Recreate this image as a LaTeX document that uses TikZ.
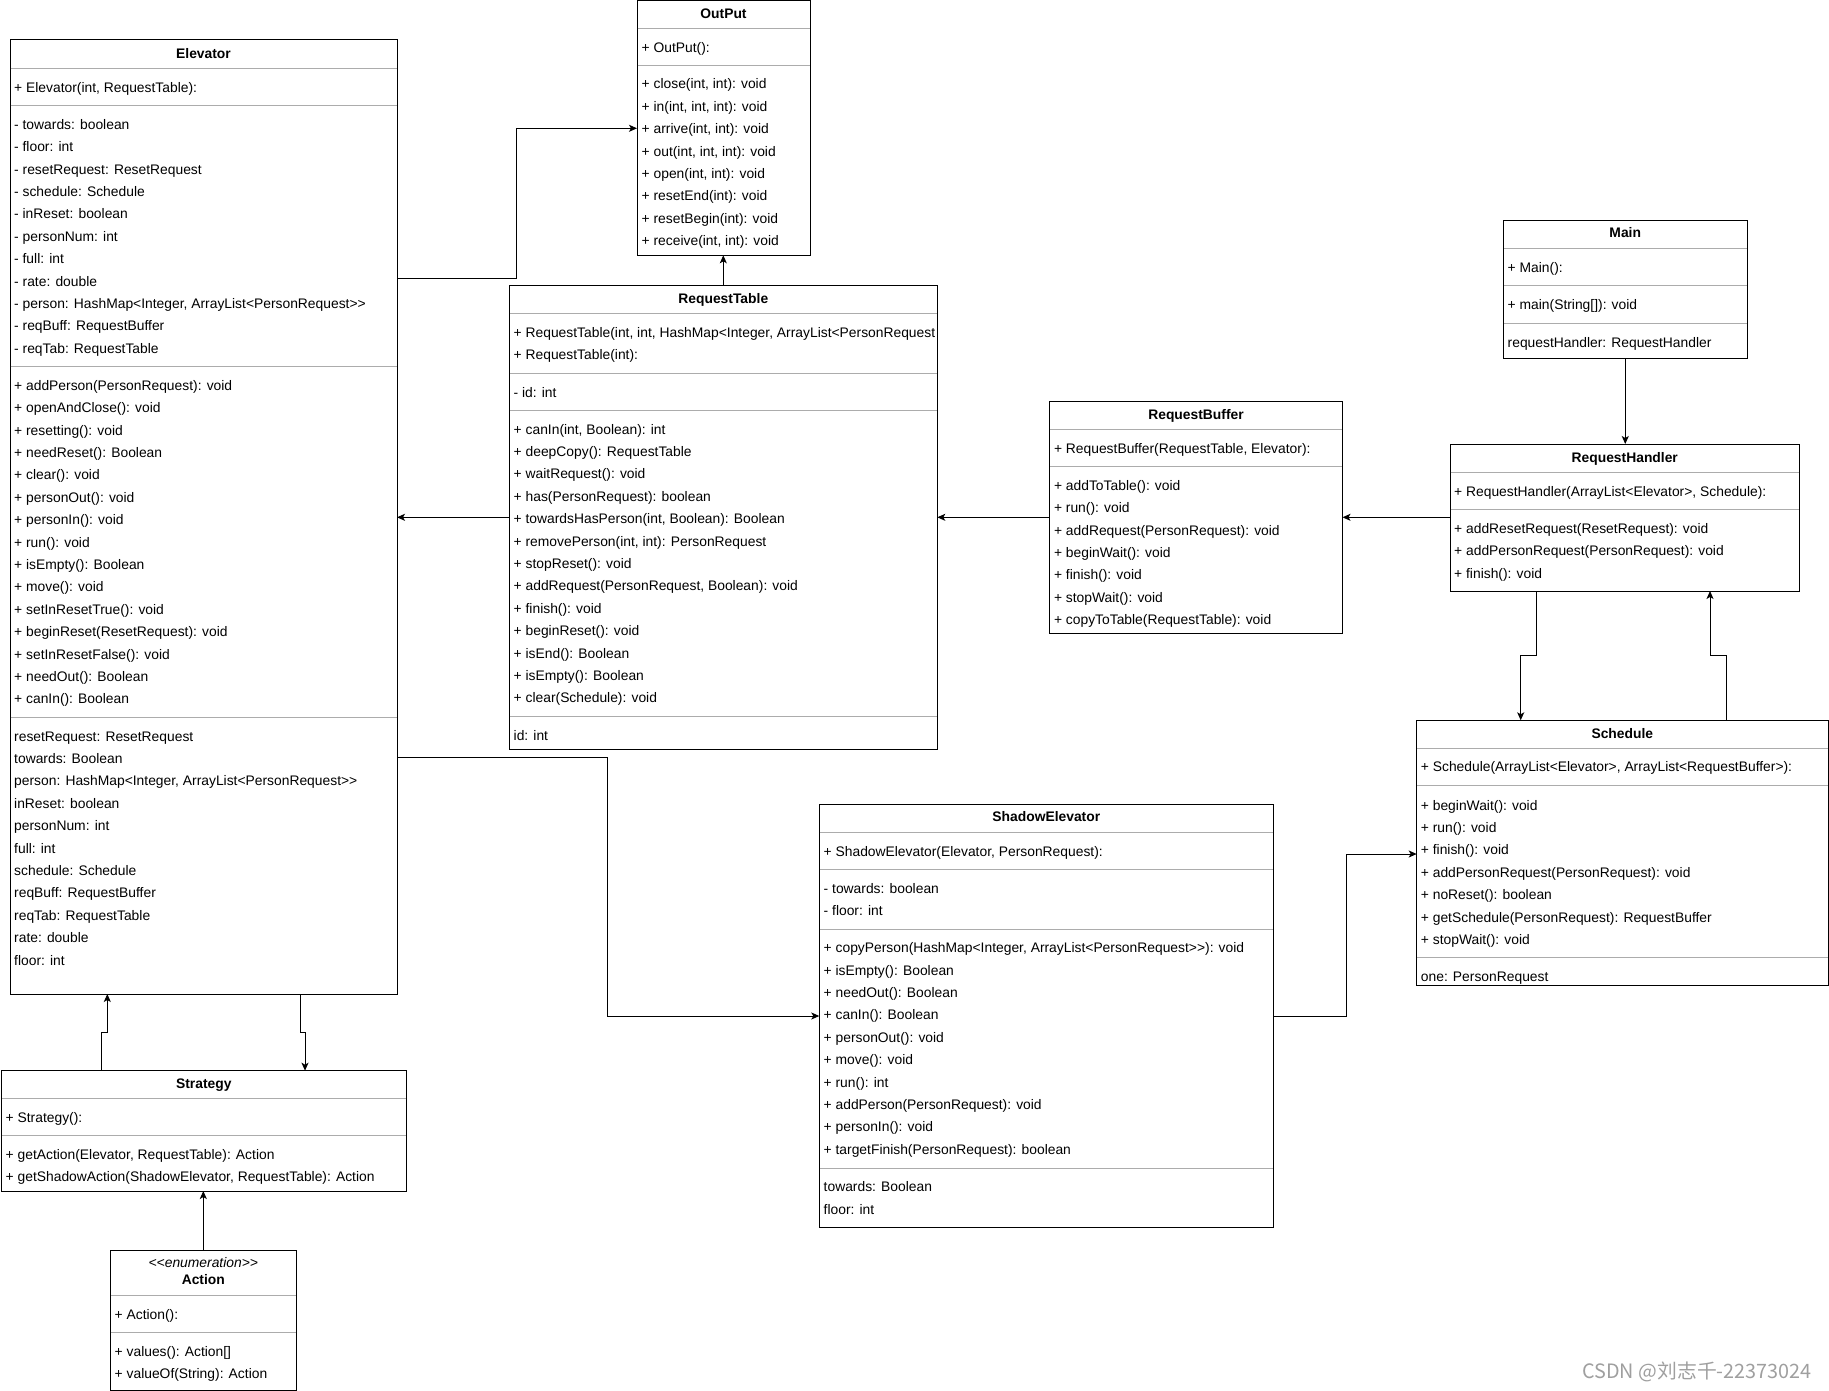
\documentclass[tikz,border=0pt]{standalone}
\usepackage{fontspec}
\setmainfont{Liberation Sans}
\newfontfamily\cjkwm{Noto Sans CJK SC}
\usetikzlibrary{arrows.meta,calc}
\newcommand\rowfont{\fontsize{13.85pt}{16pt}\selectfont}
\newcommand\lt{<\kern0pt}
\newcommand\gt{>\kern0pt}
\newcommand\classrows[4]{\foreach \txt [count=\ri from 0] in {#4} {\node[row] (#1\ri) at (#2,{#3+\ri*22.4}) {\txt};}}
\newcommand\sepline[2]{\draw[sepl] ($(#1.north west)+(0.5,#2)$) -- ($(#1.north east)+(-0.5,#2)$);}
\tikzset{
  cls/.style={draw=black, line width=1pt, inner sep=0pt, outer sep=0pt, anchor=north west, rectangle},
  row/.style={anchor=west, inner sep=0pt, text height=10pt, text depth=0pt, font=\rowfont},
  hdr/.style={anchor=center, inner sep=0pt, text height=10pt, text depth=0pt, font=\rowfont\bfseries},
  stereo/.style={anchor=center, inner sep=0pt, text height=10pt, text depth=0pt, font=\rowfont\itshape},
  sepl/.style={draw=gray!65, line width=1pt},
  conn/.style={draw=black, line width=1pt, -{Stealth[length=8pt,width=7pt,inset=2pt]}}
}
\begin{document}
\begin{tikzpicture}[x=1pt,y=-1pt]
\useasboundingbox (0,0) rectangle (1829,1391);

% ---------- Elevator ----------
\node[cls, minimum width=387pt, minimum height=954pt] (el) at (10,40) {};
\sepline{el}{28.3}\sepline{el}{65.7}\sepline{el}{326.7}\sepline{el}{677.3}
\node[hdr] (el-h) at (203.5,53.5) {Elevator};
\classrows{el-c}{14}{87.3}{{+ Elevator(int, RequestTable):}}
\classrows{el-a}{14}{124.3}{{- towards: boolean},{- floor: int},{- resetRequest: ResetRequest},{- schedule: Schedule},{- inReset: boolean},{- personNum: int},{- full: int},{- rate: double},{- person: HashMap<Integer, ArrayList<PersonRequest\gt>},{- reqBuff: RequestBuffer},{- reqTab: RequestTable}}
\classrows{el-m}{14}{385.3}{{+ addPerson(PersonRequest): void},{+ openAndClose(): void},{+ resetting(): void},{+ needReset(): Boolean},{+ clear(): void},{+ personOut(): void},{+ personIn(): void},{+ run(): void},{+ isEmpty(): Boolean},{+ move(): void},{+ setInResetTrue(): void},{+ beginReset(ResetRequest): void},{+ setInResetFalse(): void},{+ needOut(): Boolean},{+ canIn(): Boolean}}
\classrows{el-f}{14}{736}{{resetRequest: ResetRequest},{towards: Boolean},{person: HashMap<Integer, ArrayList<PersonRequest\gt>},{inReset: boolean},{personNum: int},{full: int},{schedule: Schedule},{reqBuff: RequestBuffer},{reqTab: RequestTable},{rate: double},{floor: int}}

% ---------- OutPut ----------
\node[cls, minimum width=173pt, minimum height=254.3pt] (out) at (637,1) {};
\sepline{out}{27.3}\sepline{out}{64.3}
\node[hdr] (out-h) at (723.5,13.5) {OutPut};
\classrows{out-c}{641.5}{47.3}{{+ OutPut():}}
\classrows{out-m}{641.5}{84}{{+ close(int, int): void},{+ in(int, int, int): void},{+ arrive(int, int): void},{+ out(int, int, int): void},{+ open(int, int): void},{+ resetEnd(int): void},{+ resetBegin(int): void},{+ receive(int, int): void}}

% ---------- RequestTable ----------
\node[cls, minimum width=428pt, minimum height=464pt] (rt) at (509.3,285.3) {};
\sepline{rt}{28}\sepline{rt}{88}\sepline{rt}{125}\sepline{rt}{431}
\node[hdr] (rt-h) at (723.3,298.5) {RequestTable};
\begin{scope}
\clip (509.3,300) rectangle (936.8,380);
\classrows{rt-c}{513.5}{332.3}{{+ RequestTable(int, int, HashMap<Integer, ArrayList<PersonRequest},{+ RequestTable(int):}}
\end{scope}
\classrows{rt-a}{513.5}{392.3}{{- id: int}}
\classrows{rt-m}{513.5}{429}{{+ canIn(int, Boolean): int},{+ deepCopy(): RequestTable},{+ waitRequest(): void},{+ has(PersonRequest): boolean},{+ towardsHasPerson(int, Boolean): Boolean},{+ removePerson(int, int): PersonRequest},{+ stopReset(): void},{+ addRequest(PersonRequest, Boolean): void},{+ finish(): void},{+ beginReset(): void},{+ isEnd(): Boolean},{+ isEmpty(): Boolean},{+ clear(Schedule): void}}
\classrows{rt-f}{513.5}{735}{{id: int}}

% ---------- RequestBuffer ----------
\node[cls, minimum width=292.9pt, minimum height=231.6pt] (rb) at (1049.6,401.7) {};
\sepline{rb}{27.6}\sepline{rb}{65}
\node[hdr] (rb-h) at (1196,414.5) {RequestBuffer};
\classrows{rb-c}{1053.8}{448.7}{{+ RequestBuffer(RequestTable, Elevator):}}
\classrows{rb-m}{1053.8}{485.3}{{+ addToTable(): void},{+ run(): void},{+ addRequest(PersonRequest): void},{+ beginWait(): void},{+ finish(): void},{+ stopWait(): void},{+ copyToTable(RequestTable): void}}

% ---------- Main ----------
\node[cls, minimum width=243.5pt, minimum height=137.6pt] (main) at (1503.5,220.7) {};
\sepline{main}{27.6}\sepline{main}{65}\sepline{main}{102.6}
\node[hdr] (main-h) at (1625.25,233) {Main};
\classrows{main-c}{1507.5}{267.3}{{+ Main():}}
\classrows{main-m}{1507.5}{304.3}{{+ main(String[]): void}}
\classrows{main-f}{1507.5}{342.3}{{requestHandler: RequestHandler}}

% ---------- RequestHandler ----------
\node[cls, minimum width=349.5pt, minimum height=147pt] (rh) at (1450,444) {};
\sepline{rh}{28.3}\sepline{rh}{65.3}
\node[hdr] (rh-h) at (1624.75,457) {RequestHandler};
\classrows{rh-c}{1454}{491.7}{{+ RequestHandler(ArrayList<Elevator>, Schedule):}}
\classrows{rh-m}{1454}{528.3}{{+ addResetRequest(ResetRequest): void},{+ addPersonRequest(PersonRequest): void},{+ finish(): void}}

% ---------- Schedule ----------
\node[cls, minimum width=411.3pt, minimum height=265pt] (sch) at (1416.7,720.3) {};
\sepline{sch}{28}\sepline{sch}{65.4}\sepline{sch}{237.4}
\node[hdr] (sch-h) at (1622.3,733) {Schedule};
\classrows{sch-c}{1420.7}{766.7}{{+ Schedule(ArrayList<Elevator>, ArrayList<RequestBuffer>):}}
\classrows{sch-m}{1420.7}{805}{{+ beginWait(): void},{+ run(): void},{+ finish(): void},{+ addPersonRequest(PersonRequest): void},{+ noReset(): boolean},{+ getSchedule(PersonRequest): RequestBuffer},{+ stopWait(): void}}
\classrows{sch-f}{1420.7}{976}{{one: PersonRequest}}

% ---------- ShadowElevator ----------
\node[cls, minimum width=454pt, minimum height=423.4pt] (sh) at (819.3,804.3) {};
\sepline{sh}{28}\sepline{sh}{65}\sepline{sh}{125}\sepline{sh}{364}
\node[hdr] (sh-h) at (1046.3,816.5) {ShadowElevator};
\classrows{sh-c}{823.5}{851}{{+ ShadowElevator(Elevator, PersonRequest):}}
\classrows{sh-a}{823.5}{888.3}{{- towards: boolean},{- floor: int}}
\classrows{sh-m}{823.5}{947.7}{{+ copyPerson(HashMap<Integer, ArrayList<PersonRequest\gt>): void},{+ isEmpty(): Boolean},{+ needOut(): Boolean},{+ canIn(): Boolean},{+ personOut(): void},{+ move(): void},{+ run(): int},{+ addPerson(PersonRequest): void},{+ personIn(): void},{+ targetFinish(PersonRequest): boolean}}
\classrows{sh-f}{823.5}{1186.7}{{towards: Boolean},{floor: int}}

% ---------- Strategy ----------
\node[cls, minimum width=404.3pt, minimum height=120.3pt] (st) at (1.7,1070.7) {};
\sepline{st}{27.6}\sepline{st}{65}
\node[hdr] (st-h) at (203.85,1083) {Strategy};
\classrows{st-c}{5.5}{1117.7}{{+ Strategy():}}
\classrows{st-m}{5.5}{1154.3}{{+ getAction(Elevator, RequestTable): Action},{+ getShadowAction(ShadowElevator, RequestTable): Action}}

% ---------- Action ----------
\node[cls, minimum width=186pt, minimum height=139.3pt] (act) at (110.3,1250.7) {};
\sepline{act}{45}\sepline{act}{82}
\node[stereo] (act-s) at (203.3,1262.3) {\lt<enumeration\gt>};
\node[hdr] (act-h) at (203.3,1279) {Action};
\classrows{act-c}{114.5}{1314.3}{{+ Action():}}
\classrows{act-m}{114.5}{1351}{{+ values(): Action[]},{+ valueOf(String): Action}}

% ---------- connectors ----------
\draw[conn] ($(el.north east)+(0,238.3)$) -- ++(119.7,0) |- ($(out.north west)+(0,127.3)$);
\draw[conn] (rt.north) -- (rt.north |- out.south);
\draw[conn] ($(rt.north west)+(0,232)$) coordinate (c3) -- (el.east |- c3);
\draw[conn] ($(rb.north west)+(0,115.6)$) coordinate (c4) -- (rt.east |- c4);
\draw[conn] ($(rh.north west)+(0,73.3)$) coordinate (c5) -- (rb.east |- c5);
\draw[conn] (main.south) -- (main.south |- rh.north);
\draw[conn] ($(rh.south west)+(86.7,0)$) |- ++(-16,64.7) -- ($(sch.north west)+(104,0)$);
\draw[conn] ($(sch.north west)+(310,0)$) |- ++(-16.7,-64.6) -- ($(rh.south west)+(260,0)$);
\draw[conn] ($(el.north east)+(0,717)$) -- ++(210.7,0) |- ($(sh.north west)+(0,211.7)$);
\draw[conn] ($(sh.north east)+(0,211.7)$) -- ++(72.7,0) |- ($(sch.north west)+(0,133.7)$);
\draw[conn] ($(st.north west)+(100,0)$) |- ++(5.6,-38.4) -- ($(el.south west)+(97.3,0)$);
\draw[conn] ($(el.south west)+(290,0)$) |- ++(5,38.3) -- ($(st.north west)+(303.3,0)$);
\draw[conn] (act.north) -- (act.north |- st.south);

% ---------- watermark ----------
\node[inner sep=0pt, text=gray!75, font=\cjkwm\fontsize{19.8pt}{22pt}\selectfont] (wm) at (1697,1372) {CSDN @刘志千-22373024};
\end{tikzpicture}
\end{document}
